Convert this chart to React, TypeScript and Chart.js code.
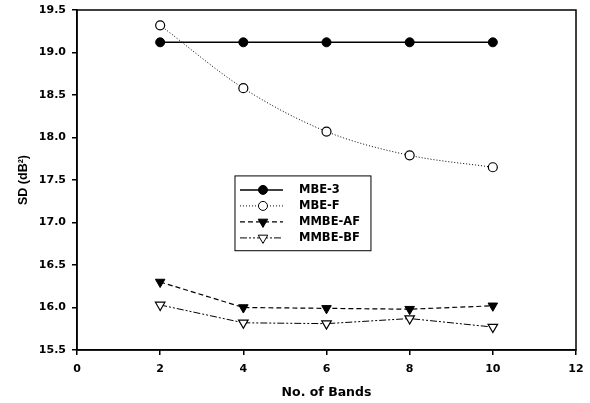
import React, { useEffect, useRef } from "react";
import { Chart, registerables } from "chart.js";

Chart.register(...registerables);

const bands = [2, 4, 6, 8, 10];
const mbe3 = [19.12, 19.12, 19.12, 19.12, 19.12];
const mbeF = [19.32, 18.58, 18.07, 17.79, 17.65];
const mmbeAF = [16.3, 16.0, 15.99, 15.98, 16.02];
const mmbeBF = [16.03, 15.82, 15.81, 15.87, 15.77];
const seriesNames = ["MBE-3", "MBE-F", "MMBE-AF", "MMBE-BF"];
const yTicks = [15.5, 16.0, 16.5, 17.0, 17.5, 18.0, 18.5, 19.0, 19.5];

const WIDE = "'DejaVu Sans', Verdana, sans-serif";
const NARROW = "'Liberation Sans', Arial, sans-serif";

function drawMarker(ctx: CanvasRenderingContext2D, style: string, x: number, y: number, r: number, fill: string) {
  ctx.save();
  ctx.setLineDash([]);
  ctx.lineWidth = 1;
  ctx.strokeStyle = "#000";
  ctx.fillStyle = fill;
  ctx.beginPath();
  if (style === "circle") {
    ctx.arc(x, y, r, 0, Math.PI * 2);
  } else {
    const h = r * 0.866;
    ctx.moveTo(x - h, y - r * 0.5);
    ctx.lineTo(x + h, y - r * 0.5);
    ctx.lineTo(x, y + r);
    ctx.closePath();
  }
  ctx.fill();
  ctx.stroke();
  ctx.restore();
}

const frameAndLegend = {
  id: "frameAndLegend",
  afterDatasetsDraw(chart: any) {
    const { ctx, chartArea } = chart;
    const { left, top, right, bottom } = chartArea;
    const w = right - left;
    const h = bottom - top;
    ctx.save();
    ctx.strokeStyle = "#000";
    ctx.lineWidth = 1.5;
    ctx.strokeRect(left, top, w, h);

    // legend box
    const lx = left + w * 0.3166;
    const ly = top + h * 0.488;
    const lw = w * 0.2725;
    const lh = h * 0.22;
    ctx.fillStyle = "#fff";
    ctx.fillRect(lx, ly, lw, lh);
    ctx.lineWidth = 1;
    ctx.strokeRect(lx, ly, lw, lh);
    const rowH = 16;
    chart.data.datasets.forEach((ds: any, i: number) => {
      const cy = ly + 14 + i * rowH;
      ctx.save();
      ctx.strokeStyle = "#000";
      ctx.lineWidth = ds.borderWidth;
      ctx.setLineDash(ds.borderDash || []);
      ctx.beginPath();
      ctx.moveTo(lx + 5, cy);
      ctx.lineTo(lx + 48, cy);
      ctx.stroke();
      ctx.restore();
      drawMarker(ctx, ds.pointStyle === "circle" ? "circle" : "tri", lx + 28, cy, ds.pointRadius, ds.pointBackgroundColor);
      ctx.fillStyle = "#000";
      ctx.font = `bold 11.5px ${WIDE}`;
      ctx.textBaseline = "middle";
      ctx.textAlign = "left";
      ctx.fillText(ds.label, lx + 64, cy);
    });
    ctx.restore();
  },
};

export default function App() {
  const ref = useRef<HTMLCanvasElement>(null);
  useEffect(() => {
    document.body.style.margin = "0";
    const pts = (arr: number[]) => bands.map((b, i) => ({ x: b, y: arr[i] }));
    const chart = new Chart(ref.current!, {
      type: "line",
      data: {
        datasets: [
          {
            label: seriesNames[0],
            data: pts(mbe3),
            borderColor: "#000",
            borderWidth: 1.5,
            pointStyle: "circle",
            pointRadius: 4.5,
            pointBackgroundColor: "#000",
            pointBorderColor: "#000",
            pointBorderWidth: 1,
          },
          {
            label: seriesNames[1],
            data: pts(mbeF),
            borderColor: "#000",
            borderWidth: 1,
            borderDash: [1, 2],
            cubicInterpolationMode: "monotone",
            pointStyle: "circle",
            pointRadius: 4.5,
            pointBackgroundColor: "#fff",
            pointBorderColor: "#000",
            pointBorderWidth: 1.2,
          },
          {
            label: seriesNames[2],
            data: pts(mmbeAF),
            borderColor: "#000",
            borderWidth: 1.2,
            borderDash: [5, 3],
            pointStyle: "triangle",
            pointRotation: 180,
            pointRadius: 5.5,
            pointBackgroundColor: "#000",
            pointBorderColor: "#000",
            pointBorderWidth: 1,
          },
          {
            label: seriesNames[3],
            data: pts(mmbeBF),
            borderColor: "#000",
            borderWidth: 1,
            borderDash: [7, 2, 2, 2, 2, 2],
            pointStyle: "triangle",
            pointRotation: 180,
            pointRadius: 5.5,
            pointBackgroundColor: "#fff",
            pointBorderColor: "#000",
            pointBorderWidth: 1.2,
          },
        ],
      },
      options: {
        responsive: false,
        animation: false,
        layout: { padding: { top: 10, right: 14, left: 0, bottom: 0 } },
        plugins: { legend: { display: false }, tooltip: { enabled: false } },
        scales: {
          x: {
            type: "linear",
            min: 0,
            max: 12,
            ticks: { stepSize: 2, color: "#000", font: { family: WIDE, size: 11, weight: "bold" }, padding: 8 },
            grid: { drawOnChartArea: false, drawTicks: true, tickLength: 5, color: "#000", lineWidth: 1.5 },
            border: { display: true, color: "#000", width: 1.5 },
            title: {
              display: true,
              text: "No. of Bands",
              color: "#000",
              font: { family: WIDE, size: 12.5, weight: "bold" },
              padding: { top: 0, bottom: 3 },
            },
            afterFit: (s: any) => {
              s.height = 53;
              s.paddingLeft = 0;
              s.paddingRight = 0;
            },
          },
          y: {
            type: "linear",
            min: 15.5,
            max: 19.5,
            afterBuildTicks: (s: any) => {
              s.ticks = yTicks.map((v) => ({ value: v }));
            },
            ticks: {
              color: "#000",
              font: { family: WIDE, size: 11, weight: "bold" },
              padding: 6,
              callback: (v: any) => Number(v).toFixed(1),
            },
            grid: { drawOnChartArea: false, drawTicks: true, tickLength: 5, color: "#000", lineWidth: 1.5 },
            border: { display: true, color: "#000", width: 1.5 },
            title: {
              display: true,
              text: "SD (dB²)",
              color: "#000",
              font: { family: NARROW, size: 12.5, weight: "bold" },
              padding: { top: 16, bottom: 0 },
            },
            afterFit: (s: any) => {
              s.width = 77;
              s.paddingTop = 0;
              s.paddingBottom = 0;
            },
          },
        },
      },
      plugins: [frameAndLegend],
    } as any);
    return () => chart.destroy();
  }, []);
  return (
    <div style={{ width: 590, height: 403 }}>
      <canvas ref={ref} width={590} height={403} />
    </div>
  );
}
